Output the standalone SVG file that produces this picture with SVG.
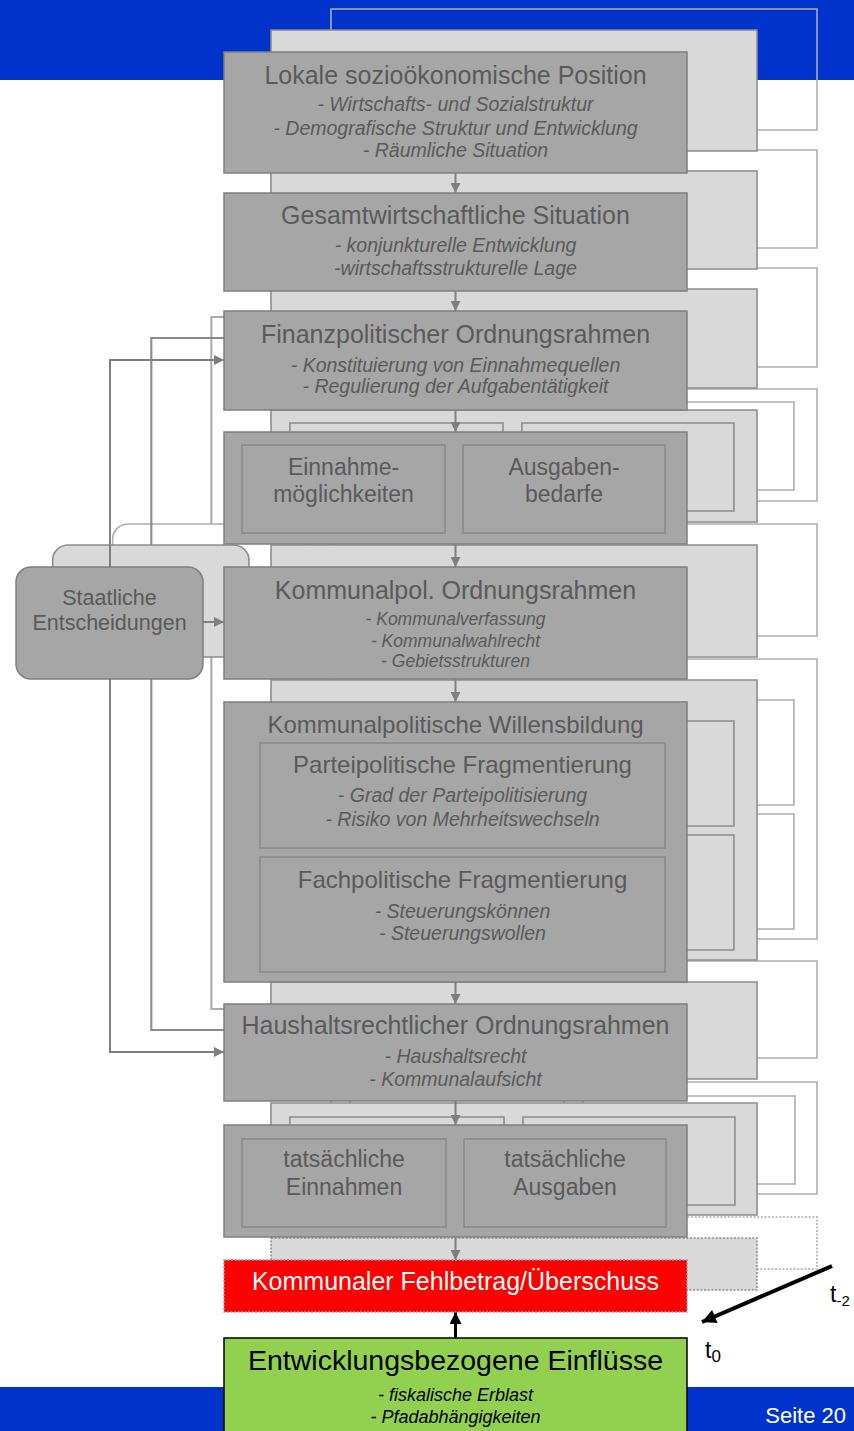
<svg xmlns="http://www.w3.org/2000/svg" xmlns:xlink="http://www.w3.org/1999/xlink" width="854" height="1431" viewBox="0 0 854 1431">
<style>
  .band{fill:#0033cc}
  .box{fill:#a6a6a6;stroke:#7f7f7f;stroke-width:1.5}
  .inner{fill:#a6a6a6;stroke:#888888;stroke-width:1.5}
  .mid{fill:#d9d9d9;stroke:#8c8c8c;stroke-width:1.5}
  .back{fill:none;stroke:#adadad;stroke-width:1.5}
  .t{font-family:"Liberation Sans",Arial,sans-serif;fill:#5a5a5a;text-anchor:middle}
  .ti{font-size:25px}
  .ti24{font-size:24px}
  .in{font-size:23px}
  .sub{font-size:19.5px;font-style:italic}
  .sub2{font-size:17.5px;font-style:italic}
  .con{fill:none;stroke:#7f7f7f;stroke-width:2}
  .blk{fill:none;stroke:#000000}
</style>
<defs>
  <marker id="ag" viewBox="0 0 10 10" refX="10" refY="5" markerWidth="10" markerHeight="10" markerUnits="userSpaceOnUse" orient="auto">
    <path d="M0,0 L10,5 L0,10 z" fill="#7f7f7f"/>
  </marker>
  <marker id="ab" viewBox="0 0 10 10" refX="10" refY="5" markerWidth="12" markerHeight="12" markerUnits="userSpaceOnUse" orient="auto">
    <path d="M0,0 L10,5 L0,10 z" fill="#000000"/>
  </marker>
  <marker id="ab2" viewBox="0 0 10 10" refX="10" refY="5" markerWidth="16" markerHeight="14" markerUnits="userSpaceOnUse" orient="auto">
    <path d="M0,0 L10,5 L0,10 z" fill="#000000"/>
  </marker>
  <g id="layer">
    <rect x="224" y="52" width="463" height="121"/>
    <rect x="224" y="193" width="463" height="98"/>
    <rect x="224" y="311" width="463" height="99"/>
    <rect x="224" y="432" width="463" height="112"/>
    <rect x="242" y="445" width="203" height="88"/>
    <rect x="463" y="445" width="202" height="88"/>
    <rect x="224" y="567" width="463" height="112"/>
    <rect x="224" y="702" width="463" height="280"/>
    <rect x="260" y="743" width="405" height="105"/>
    <rect x="260" y="857" width="405" height="115"/>
    <rect x="224" y="1004" width="463" height="97"/>
    <rect x="224" y="1125" width="463" height="112"/>
    <rect x="242" y="1139" width="204" height="88"/>
    <rect x="464" y="1139" width="202" height="88"/>
    <rect x="224" y="1260" width="463" height="52" stroke-dasharray="2 1.5"/>
    <rect x="16" y="567" width="187" height="112" rx="15"/>
    <path fill="none" stroke-width="2" d="M110,567 V360 H224 M110,679 V1052 H224"/>
  </g>
</defs>

<rect class="band" x="0" y="0" width="854" height="80"/>
<rect class="band" x="0" y="1387" width="854" height="44"/>

<g id="layer-t2">
  <use xlink:href="#layer" href="#layer" class="back" transform="matrix(1.0497 0 0 1 95.87 -43)"/>
</g>
<g id="layer-t1">
  <use xlink:href="#layer" href="#layer" class="mid" transform="matrix(1.0497 0 0 1 35.87 -22)"/>
</g>

<g id="connectors">
  <path class="con" marker-end="url(#ag)" d="M455.5,173 V193"/>
  <path class="con" marker-end="url(#ag)" d="M455.5,291 V311"/>
  <path class="con" marker-end="url(#ag)" d="M455.5,410 V432"/>
  <path class="con" marker-end="url(#ag)" d="M455.5,544 V567"/>
  <path class="con" marker-end="url(#ag)" d="M455.5,679 V702"/>
  <path class="con" marker-end="url(#ag)" d="M455.5,982 V1004"/>
  <path class="con" marker-end="url(#ag)" d="M455.5,1101 V1125"/>
  <path class="con" marker-end="url(#ag)" d="M455.5,1237 V1260"/>
  <path class="con" marker-end="url(#ag)" d="M110,567 V360 H224"/>
  <path class="con" marker-end="url(#ag)" d="M110,679 V1052 H224"/>
  <path class="con" marker-end="url(#ag)" d="M203,622 H224"/>
  <path class="blk" stroke-width="3" marker-end="url(#ab)" d="M455.5,1338 V1312"/>
  <path class="blk" stroke-width="4" marker-end="url(#ab2)" d="M832,1266 L702,1322"/>
</g>

<g id="n-lokale">
  <rect class="box" x="224" y="52" width="463" height="121"/>
  <text class="t ti" x="455.5" y="84">Lokale sozioökonomische Position</text>
  <text class="t sub" x="455.5" y="111">- Wirtschafts- und Sozialstruktur</text>
  <text class="t sub" x="455.5" y="135">- Demografische Struktur und Entwicklung</text>
  <text class="t sub" x="455.5" y="157">- Räumliche Situation</text>
</g>
<g id="n-gesamt">
  <rect class="box" x="224" y="193" width="463" height="98"/>
  <text class="t ti" x="455.5" y="224">Gesamtwirtschaftliche Situation</text>
  <text class="t sub" x="455.5" y="252">- konjunkturelle Entwicklung</text>
  <text class="t sub" x="455.5" y="275">-wirtschaftsstrukturelle Lage</text>
</g>
<g id="n-finanz">
  <rect class="box" x="224" y="311" width="463" height="99"/>
  <text class="t ti" x="455.5" y="343">Finanzpolitischer Ordnungsrahmen</text>
  <text class="t sub" x="455.5" y="372">- Konstituierung von Einnahmequellen</text>
  <text class="t sub" x="455.5" y="393">- Regulierung der Aufgabentätigkeit</text>
</g>
<g id="n-moeglich">
  <rect class="box" x="224" y="432" width="463" height="112"/>
  <rect class="inner" x="242" y="445" width="203" height="88"/>
  <rect class="inner" x="463" y="445" width="202" height="88"/>
  <text class="t in" x="343.5" y="475">Einnahme-</text>
  <text class="t in" x="343.5" y="502">möglichkeiten</text>
  <text class="t in" x="564" y="475">Ausgaben-</text>
  <text class="t in" x="564" y="502">bedarfe</text>
</g>
<g id="n-staat">
  <rect class="box" x="16" y="567" width="187" height="112" rx="15"/>
  <text class="t" font-size="21.5" x="109.5" y="605">Staatliche</text>
  <text class="t" font-size="21.5" x="109.5" y="630">Entscheidungen</text>
</g>
<g id="n-kommunalpol">
  <rect class="box" x="224" y="567" width="463" height="112"/>
  <text class="t ti" x="455.5" y="599">Kommunalpol. Ordnungsrahmen</text>
  <text class="t sub2" x="455.5" y="625">- Kommunalverfassung</text>
  <text class="t sub2" x="455.5" y="647">- Kommunalwahlrecht</text>
  <text class="t sub2" x="455.5" y="667">- Gebietsstrukturen</text>
</g>
<g id="n-willen">
  <rect class="box" x="224" y="702" width="463" height="280"/>
  <text class="t ti24" x="455.5" y="733">Kommunalpolitische Willensbildung</text>
  <rect class="inner" x="260" y="743" width="405" height="105"/>
  <text class="t ti24" x="462.5" y="773">Parteipolitische Fragmentierung</text>
  <text class="t sub" x="462.5" y="802">- Grad der Parteipolitisierung</text>
  <text class="t sub" x="462.5" y="826">- Risiko von Mehrheitswechseln</text>
  <rect class="inner" x="260" y="857" width="405" height="115"/>
  <text class="t ti24" x="462.5" y="888">Fachpolitische Fragmentierung</text>
  <text class="t sub" x="462.5" y="918">- Steuerungskönnen</text>
  <text class="t sub" x="462.5" y="940">- Steuerungswollen</text>
</g>
<g id="n-haushalt">
  <rect class="box" x="224" y="1004" width="463" height="97"/>
  <text class="t ti" x="455.5" y="1034">Haushaltsrechtlicher Ordnungsrahmen</text>
  <text class="t sub" x="455.5" y="1063">- Haushaltsrecht</text>
  <text class="t sub" x="455.5" y="1086">- Kommunalaufsicht</text>
</g>
<g id="n-tatsaechlich">
  <rect class="box" x="224" y="1125" width="463" height="112"/>
  <rect class="inner" x="242" y="1139" width="204" height="88"/>
  <rect class="inner" x="464" y="1139" width="202" height="88"/>
  <text class="t in" x="344" y="1167">tatsächliche</text>
  <text class="t in" x="344" y="1195">Einnahmen</text>
  <text class="t in" x="565" y="1167">tatsächliche</text>
  <text class="t in" x="565" y="1195">Ausgaben</text>
</g>
<g id="n-fehlbetrag">
  <rect x="224" y="1260" width="463" height="52" fill="#ff0000" stroke="#9a9a9a" stroke-width="1.5" stroke-dasharray="2 1.5"/>
  <text class="t ti" x="455.5" y="1290" style="fill:#ffffff">Kommunaler Fehlbetrag/Überschuss</text>
</g>
<g id="n-entwicklung">
  <rect x="224" y="1338" width="463" height="100" fill="#92d050" stroke="#000000" stroke-width="1.5"/>
  <text class="t" x="455.5" y="1370" font-size="28.5" style="fill:#000000">Entwicklungsbezogene Einflüsse</text>
  <text class="t sub" x="455.5" y="1401" font-size="18" style="fill:#000000;font-size:18px">- fiskalische Erblast</text>
  <text class="t sub" x="455.5" y="1423" style="fill:#000000;font-size:18px">- Pfadabhängigkeiten</text>
</g>

<g id="labels">
  <text x="830" y="1302" font-family="Liberation Sans, Arial, sans-serif" font-size="23" fill="#000000">t<tspan font-size="15" dy="4">-2</tspan></text>
  <text x="705" y="1358" font-family="Liberation Sans, Arial, sans-serif" font-size="23" fill="#000000">t<tspan font-size="17" dy="4">0</tspan></text>
  <text x="846" y="1423" font-family="Liberation Sans, Arial, sans-serif" font-size="22" fill="#ffffff" text-anchor="end">Seite 20</text>
</g>
</svg>
